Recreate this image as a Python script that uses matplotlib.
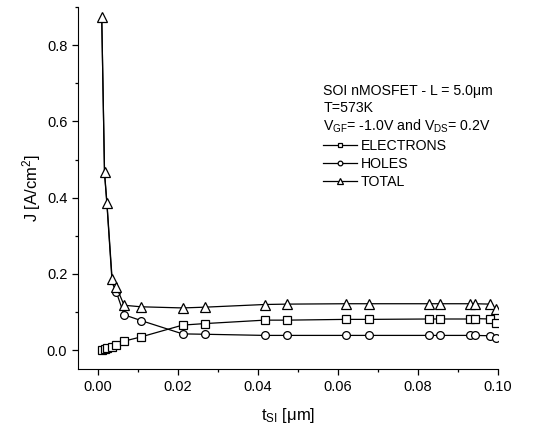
import matplotlib
matplotlib.use("Agg")
import matplotlib.pyplot as plt
from matplotlib.ticker import MultipleLocator, FormatStrFormatter

plt.rcParams["font.family"] = ["Liberation Sans", "DejaVu Sans"]
plt.rcParams["mathtext.fontset"] = "custom"
plt.rcParams["mathtext.rm"] = "Liberation Sans"
plt.rcParams["mathtext.it"] = "Liberation Sans:italic"

# data
t_si = [0.0010, 0.0017, 0.0023, 0.0036, 0.0046, 0.0066, 0.0108,
        0.0212, 0.0268, 0.0417, 0.0473, 0.0621, 0.0679,
        0.0827, 0.0855, 0.0930, 0.0943, 0.0981, 0.0994]

electrons = [0.002, 0.003, 0.005, 0.009, 0.013, 0.024, 0.035,
             0.066, 0.070, 0.079, 0.079, 0.081, 0.081,
             0.082, 0.082, 0.082, 0.083, 0.082, 0.072]

holes = [0.871, 0.463, 0.382, 0.177, 0.154, 0.093, 0.078,
         0.043, 0.042, 0.039, 0.039, 0.039, 0.039,
         0.039, 0.039, 0.039, 0.039, 0.038, 0.032]

total = [0.873, 0.466, 0.387, 0.186, 0.167, 0.118, 0.114,
         0.111, 0.113, 0.120, 0.121, 0.122, 0.122,
         0.122, 0.122, 0.122, 0.122, 0.121, 0.107]

info_lines = ["SOI nMOSFET - L = 5.0μm",
              "T=573K",
              r"V$_{\rm GF}$= -1.0V and V$_{\rm DS}$= 0.2V"]

fig = plt.figure(figsize=(5.36, 4.32), dpi=100)
ax = fig.add_axes([0.145, 0.145, 0.784, 0.839])

style = dict(color="black", linewidth=0.9,
             markerfacecolor="white", markeredgecolor="black",
             markeredgewidth=0.9)

l1, = ax.plot(t_si, electrons, marker="s", markersize=5.3,
              label="ELECTRONS", **style)
# hole markers near zero are hidden behind the total markers
l2, = ax.plot(t_si, holes, marker="o", markersize=5.6,
              markevery=list(range(4, len(t_si))), label="HOLES", **style)
l3, = ax.plot(t_si, total, marker="^", markersize=7,
              label="TOTAL", **style)

ax.set_xlim(-0.005, 0.1)
ax.set_ylim(-0.05, 0.9)

ax.xaxis.set_major_locator(MultipleLocator(0.02))
ax.xaxis.set_minor_locator(MultipleLocator(0.01))
ax.yaxis.set_major_locator(MultipleLocator(0.2))
ax.yaxis.set_minor_locator(MultipleLocator(0.1))
ax.xaxis.set_major_formatter(FormatStrFormatter("%.2f"))
ax.yaxis.set_major_formatter(FormatStrFormatter("%.1f"))

ax.spines["top"].set_visible(False)
ax.spines["right"].set_visible(False)
ax.tick_params(which="major", direction="out", length=4, width=0.9,
               labelsize=10.5)
ax.tick_params(which="minor", direction="out", length=2.5, width=0.9)

ax.set_xlabel(r"t$_{\rm SI}$ [μm]", fontsize=12, labelpad=9)
ax.set_ylabel(r"J [A/cm$^{\rm 2}$]", fontsize=12, labelpad=3)

for i, line in enumerate(info_lines):
    ax.text(0.584, 0.771 - 0.047 * i, line, transform=ax.transAxes,
            fontsize=10.2, va="center_baseline", ha="left")

ax.legend(handles=[l1, l2, l3], loc="upper left",
          bbox_to_anchor=(0.584, 0.636), frameon=False, fontsize=10.2,
          markerscale=0.6, handlelength=2.4, handletextpad=0.25,
          labelspacing=0.28, borderpad=0, borderaxespad=0)

fig.savefig("out.png", dpi=100)
